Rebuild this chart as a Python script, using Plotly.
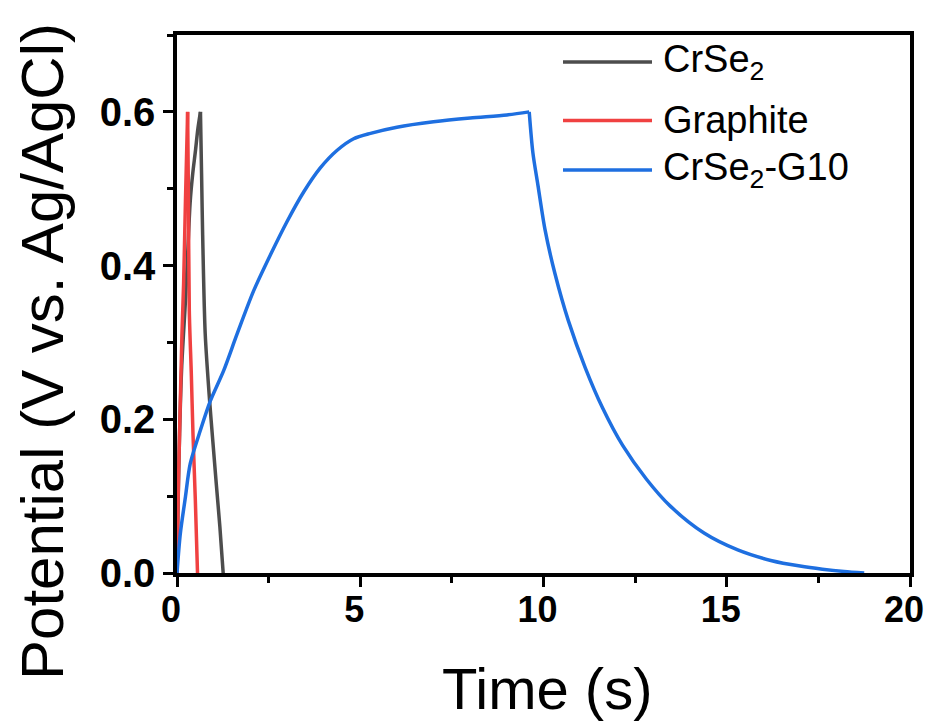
import plotly.graph_objects as go

# ---- data ----
crse2_t = [0, 0.03, 0.07, 0.13, 0.23, 0.30, 0.36, 0.43, 0.50, 0.57, 0.64, 0.67, 0.70, 0.77, 0.89, 0.98, 1.07, 1.17, 1.26]
crse2_v = [0, 0.09, 0.181, 0.27, 0.354, 0.425, 0.483, 0.52, 0.548, 0.578, 0.600, 0.52, 0.44, 0.311, 0.224, 0.17, 0.117, 0.06, 0]

graphite_t = [0, 0.03, 0.07, 0.135, 0.18, 0.23, 0.29, 0.31, 0.336, 0.39, 0.436, 0.50, 0.56]
graphite_v = [0, 0.095, 0.181, 0.311, 0.376, 0.483, 0.600, 0.50, 0.341, 0.26, 0.181, 0.095, 0]

g10_t = [0, 0.09, 0.23, 0.36, 0.64, 0.91, 1.27, 1.64, 2.09, 2.55, 3.0, 3.46, 3.91, 4.37, 4.82,
         5.28, 6.0, 7.0, 8.0, 9.0, 9.61, 9.71, 9.85, 10.04, 10.31, 10.68, 11.14, 11.61, 12.16,
         12.81, 13.46, 14.38, 15.30, 16.23, 17.0, 17.61, 18.2, 18.75]
g10_v = [0, 0.051, 0.099, 0.142, 0.186, 0.224, 0.263, 0.311, 0.367, 0.414, 0.457, 0.496, 0.527,
         0.550, 0.565, 0.572, 0.580, 0.587, 0.592, 0.596, 0.600, 0.547, 0.504, 0.447, 0.390, 0.328,
         0.267, 0.215, 0.166, 0.122, 0.087, 0.052, 0.030, 0.016, 0.009, 0.005, 0.002, 0]

series_t = [crse2_t, graphite_t, g10_t]
series_v = [crse2_v, graphite_v, g10_v]
series_names = ["CrSe<sub>2</sub>", "Graphite", "CrSe<sub>2</sub>-G10"]
series_colors = ["#4d4d4d", "#f04141", "#1e6fe0"]

x_ticks = [0, 5, 10, 15, 20]
y_ticks = [0.0, 0.2, 0.4, 0.6]
y_tick_labels = ["0.0", "0.2", "0.4", "0.6"]

x_title = "Time (s)"
y_title = "Potential (V vs. Ag/AgCl)"

FONT = "Liberation Sans, Arial, sans-serif"
LW = 3.5

fig = go.Figure()
for t, v, name, col in zip(series_t, series_v, series_names, series_colors):
    # split at the turning point (max potential) so the corner stays sharp
    k = v.index(max(v))
    for seg_t, seg_v in ((t[:k + 1], v[:k + 1]), (t[k:], v[k:])):
        fig.add_trace(go.Scatter(x=seg_t, y=seg_v, mode="lines", name=name,
                                 line=dict(color=col, width=LW, shape="spline", smoothing=0.8),
                                 showlegend=False))

# plot-area geometry in pixels
L, R, T, B = 177, 910, 35, 573
W, H = R - L, B - T
def px(xp):
    return (xp - L) / W
def py(yp):
    return (B - yp) / H

# manual legend
legend_rows = [62, 120.5, 170]
for name, col, yr in zip(series_names, series_colors, legend_rows):
    fig.add_shape(type="line", xref="paper", yref="paper",
                  x0=px(563), x1=px(652), y0=py(yr), y1=py(yr),
                  line=dict(color=col, width=LW))
    fig.add_annotation(xref="paper", yref="paper", x=px(661), y=py(yr),
                       xanchor="left", yanchor="middle", showarrow=False,
                       text=name, font=dict(family=FONT, size=38, color="black"))

# axis titles
fig.add_annotation(xref="paper", yref="paper", x=px(547), y=py(688),
                   xanchor="center", yanchor="middle", showarrow=False,
                   text=x_title, font=dict(family=FONT, size=58, color="black"))
fig.add_annotation(xref="paper", yref="paper", x=px(42), y=py(352),
                   xanchor="center", yanchor="middle", showarrow=False, textangle=-90,
                   text=y_title, font=dict(family=FONT, size=60, color="black"))

fig.update_layout(
    width=928, height=722,
    margin=dict(l=L, r=928 - R, t=T, b=722 - B, autoexpand=False),
    paper_bgcolor="white", plot_bgcolor="white",
    font=dict(family=FONT, color="black"),
    xaxis=dict(range=[0, 20], tickvals=x_ticks, ticks="outside", ticklen=10, tickwidth=3,
               tickcolor="black", showline=True, linecolor="black", linewidth=3.5, mirror=True,
               showgrid=False, zeroline=False, ticklabeloverflow="allow", ticklabelstandoff=-8,
               ticklabelshift=-6, automargin=False,
               tickfont=dict(family=FONT, size=36, color="black", weight="bold"),
               minor=dict(ticks="outside", ticklen=6, tickwidth=3, tickcolor="black", dtick=2.5)),
    yaxis=dict(range=[0, 0.7], tickvals=y_ticks, ticktext=y_tick_labels, ticks="outside", ticklen=10,
               tickwidth=3, tickcolor="black", showline=True, linecolor="black", linewidth=3.5,
               mirror=True, showgrid=False, zeroline=False, automargin=False,
               tickfont=dict(family=FONT, size=40, color="black", weight="bold"),
               minor=dict(ticks="outside", ticklen=6, tickwidth=3, tickcolor="black", dtick=0.1)),
)

fig.write_html("out.html")
